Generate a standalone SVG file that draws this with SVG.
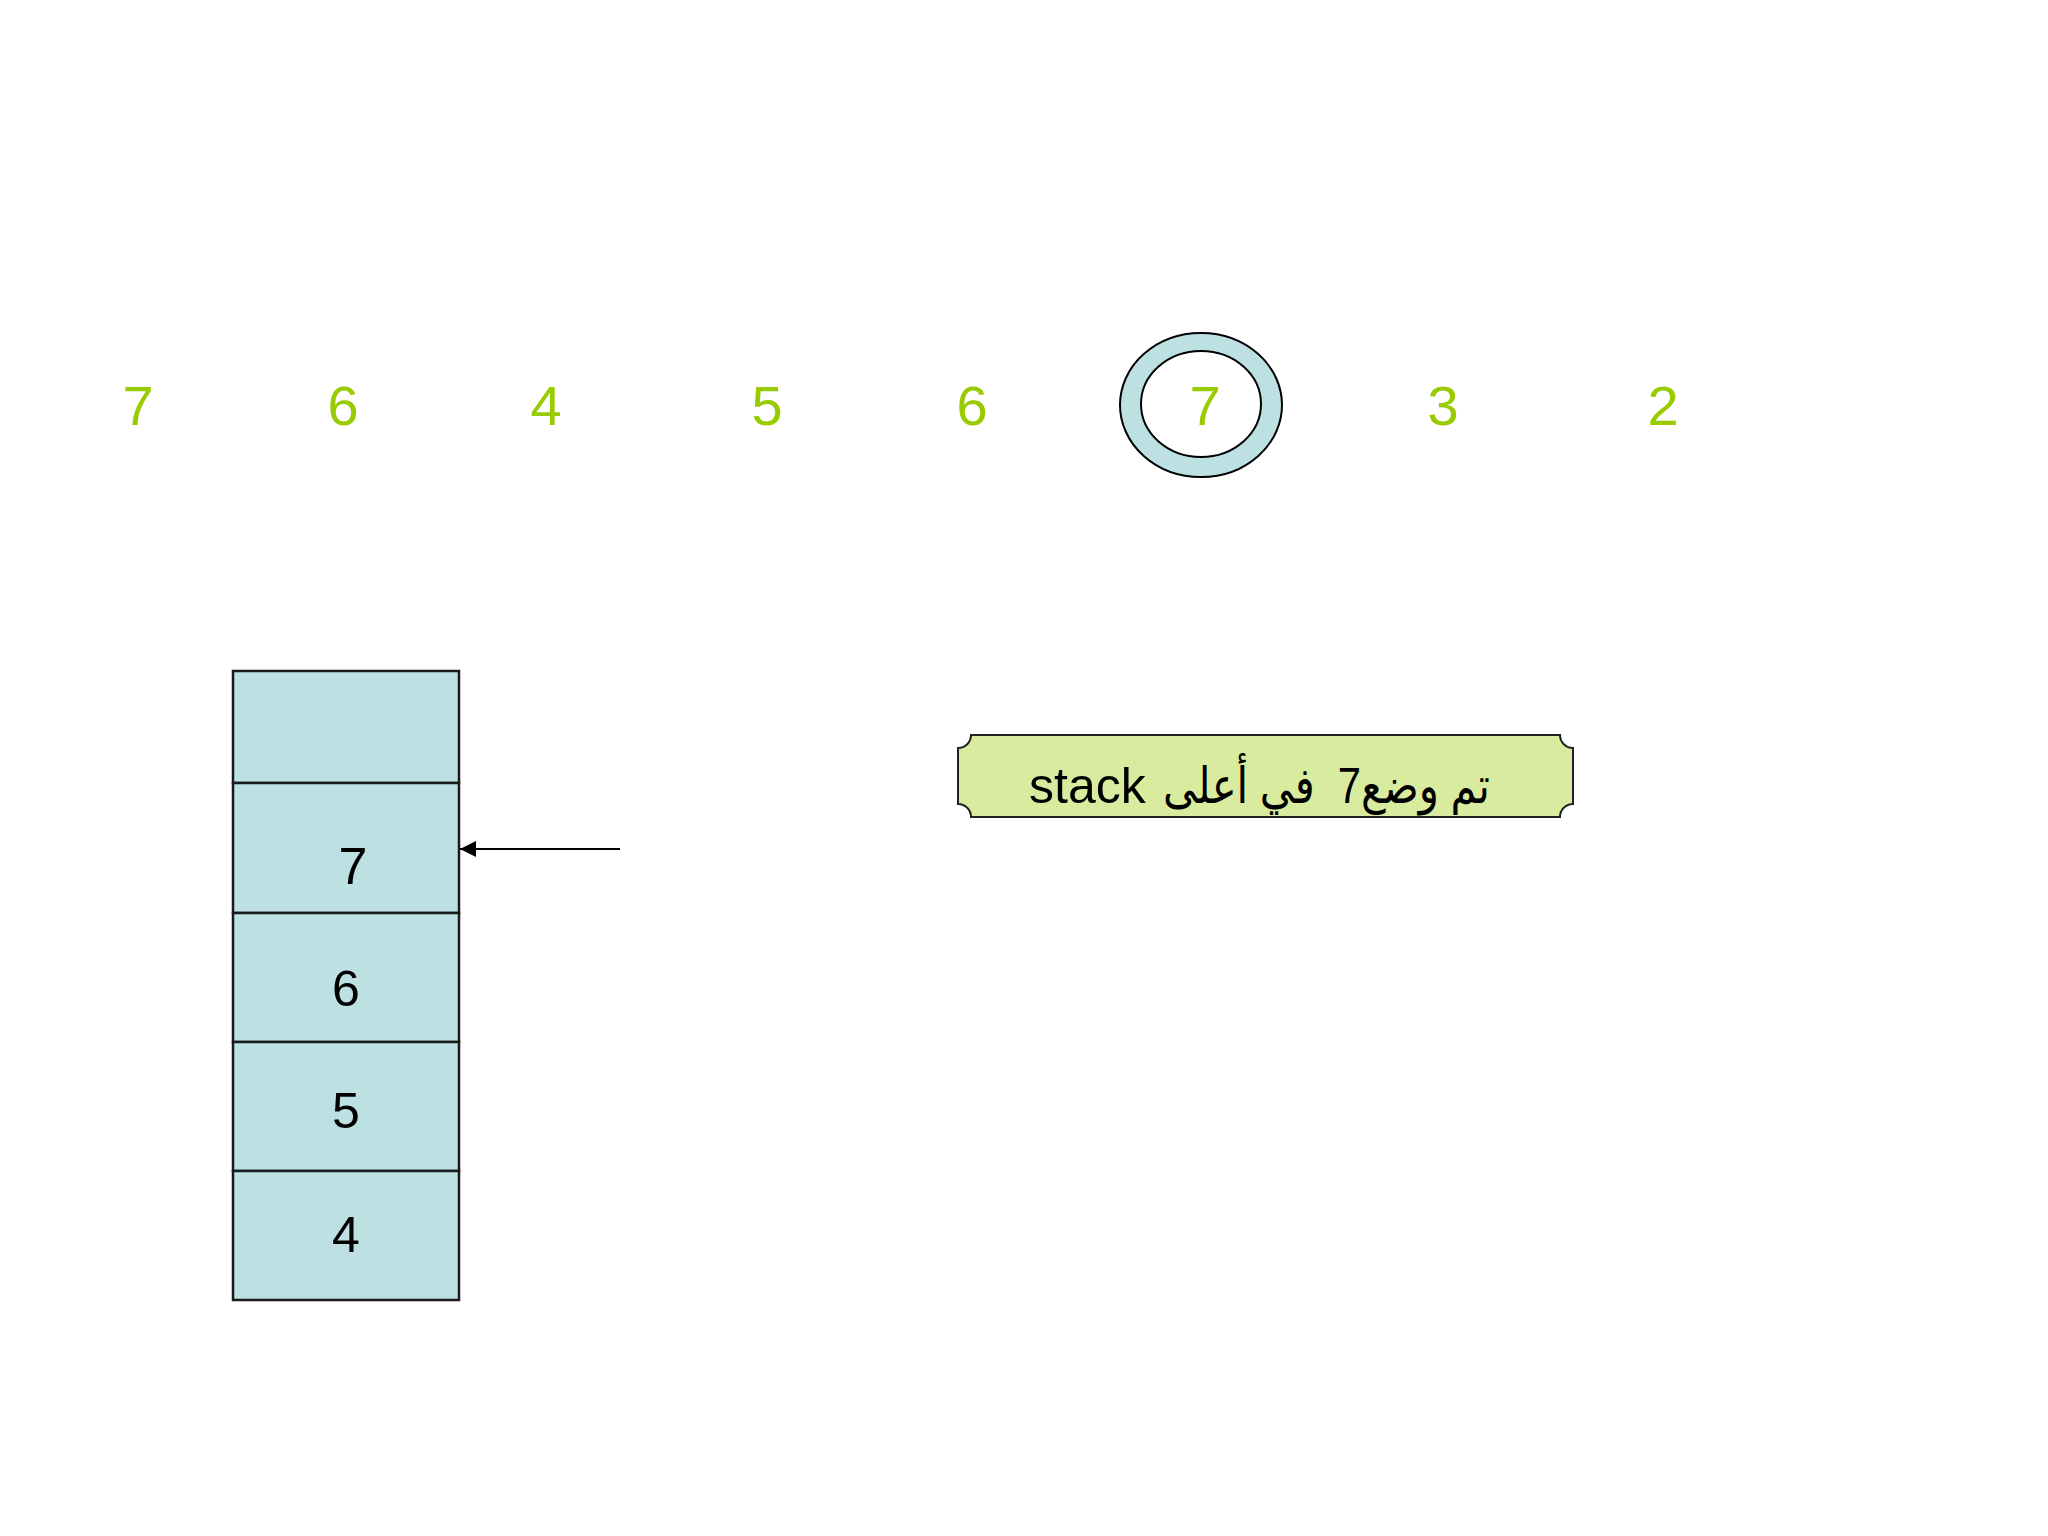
<svg xmlns="http://www.w3.org/2000/svg" width="2048" height="1536" viewBox="0 0 2048 1536">
<style>
.seq{font-family:"Liberation Sans",Arial,sans-serif;font-size:56px;fill:#99cc00;text-anchor:middle}
.cell{fill:#bde0e3;stroke:#1a1a1a;stroke-width:2.5}
.val{font-family:"Liberation Sans",Arial,sans-serif;font-size:50px;fill:#000;text-anchor:middle}
.ln{stroke:#000;stroke-width:2;fill:none}
.lbl{font-family:"Liberation Sans","DejaVu Sans",sans-serif;font-size:50px;fill:#000}
</style>
<defs>
<marker id="ah" viewBox="0 0 10 10" refX="10" refY="5" markerWidth="16" markerHeight="16" markerUnits="userSpaceOnUse" orient="auto">
<path d="M0,0 L10,5 L0,10 Z" fill="#000"/>
</marker>
</defs>
<rect width="2048" height="1536" fill="#ffffff"/>
<g id="sequence">
<text class="seq" x="138" y="425">7</text>
<text class="seq" x="343" y="425">6</text>
<text class="seq" x="546" y="425">4</text>
<text class="seq" x="767" y="425">5</text>
<text class="seq" x="972" y="425">6</text>
<g id="current">
<ellipse cx="1201" cy="405" rx="81" ry="72" fill="#bde0e3" stroke="#000" stroke-width="2"/>
<ellipse cx="1201" cy="404" rx="60" ry="53" fill="#ffffff" stroke="#000" stroke-width="2"/>
<text class="seq" x="1205" y="425">7</text>
</g>
<text class="seq" x="1443" y="425">3</text>
<text class="seq" x="1663" y="425">2</text>
</g>
<g id="stack">
<g id="cell-empty"><rect class="cell" x="233" y="671" width="226" height="112"/></g>
<g id="cell-7"><rect class="cell" x="233" y="783" width="226" height="130"/><text class="val" x="353" y="884" style="font-size:52px">7</text></g>
<g id="cell-6"><rect class="cell" x="233" y="913" width="226" height="129"/><text class="val" x="346" y="1006">6</text></g>
<g id="cell-5"><rect class="cell" x="233" y="1042" width="226" height="129"/><text class="val" x="346" y="1128">5</text></g>
<g id="cell-4"><rect class="cell" x="233" y="1171" width="226" height="129"/><text class="val" x="346" y="1252">4</text></g>
</g>
<g id="connectors">
<line class="ln" x1="620" y1="849" x2="460" y2="849" marker-end="url(#ah)"/>
</g>
<g id="label">
<path d="M971,735 H1560 A13,13 0 0 0 1573,748 V804 A13,13 0 0 0 1560,817 H971 A13,13 0 0 0 958,804 V748 A13,13 0 0 0 971,735 Z" fill="#d9eb9e" stroke="#222" stroke-width="2"/>
<text class="lbl" x="1490" y="803" direction="rtl" unicode-bidi="embed" xml:space="preserve" textLength="327" lengthAdjust="spacingAndGlyphs" text-anchor="start">تم وضع7  في أعلى</text>
<text class="lbl" x="1029" y="803" text-anchor="start">stack</text>
</g>
</svg>
